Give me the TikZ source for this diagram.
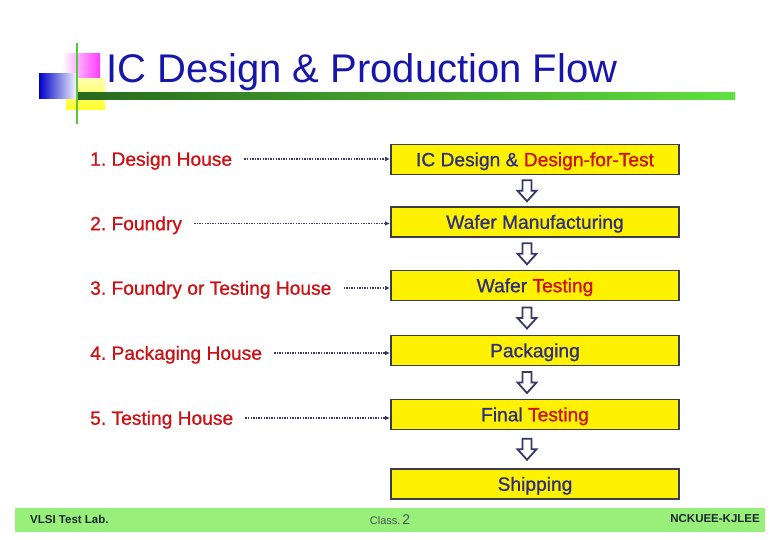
\documentclass[tikz,border=0pt]{standalone}
\usepackage{fontspec}
\setmainfont{Liberation Sans}
\newfontfamily\heavyface[FakeBold=0.9]{Liberation Sans}
\usetikzlibrary{calc,arrows.meta}
\definecolor{titleblue}{RGB}{22,22,170}
\definecolor{boxtext}{RGB}{45,45,130}
\definecolor{labred}{RGB}{204,16,20}
\definecolor{linkblue}{RGB}{55,55,105}
\definecolor{boxedge}{RGB}{60,60,80}
\definecolor{footgreen}{RGB}{152,240,122}
\definecolor{footink}{RGB}{30,40,50}
\definecolor{bardark}{RGB}{40,105,30}
\definecolor{barlight}{RGB}{95,225,60}
\definecolor{linegreen}{RGB}{90,200,60}
\definecolor{pinkish}{RGB}{255,60,255}
\definecolor{deepblue}{RGB}{0,0,200}
\frenchspacing

\begin{document}
\begin{tikzpicture}[>=Latex,x=1pt,y=-1pt,
  flowbox/.style={draw=boxedge,line width=1.8pt,fill=yellow,minimum width=288pt,minimum height=30pt,inner sep=0pt,text height=13.5pt,text depth=0pt,text=boxtext,font=\heavyface\fontsize{19.2}{21}\selectfont},
  houselab/.style={anchor=west,inner sep=0pt,text height=13.5pt,text depth=0pt,text=labred,font=\heavyface\fontsize{19.2}{21}\selectfont},
  link/.style={linkblue,line width=1.7pt,dash pattern=on 1.4pt off 1.2pt,shorten <=12pt,-{Latex[length=5pt,width=4.5pt]}},
  hollow/.style={draw=linkblue,line width=1.8pt,fill=white,line join=miter}]
  \useasboundingbox (0,0) rectangle (780,540);
  % Title ornament: faded squares, green rules
  \shade[top color=yellow!30,bottom color=yellow!85] (66,78) rectangle (105,110);
  \shade[left color=white,right color=pinkish] (62,54) rectangle (100,78);
  \shade[shading angle=120,left color=deepblue,right color=white] (39,74) rectangle (78,99);
  \shade[left color=bardark,right color=barlight] (77,93) rectangle (735,100);
  \draw[linegreen,line width=2.5pt] (77,43)--(77,124);
  \node[anchor=base west,inner sep=0pt,text=titleblue,font=\fontsize{40}{44}\selectfont] (title) at (106,83) {IC Design \& Production Flow};
  % Flow boxes on the right
  \foreach \i/\yy/\txt in {1/159.5/{IC Design \& \textcolor{labred}{Design-for-Test}},
                           2/222/{Wafer Manufacturing},
                           3/285.5/{Wafer \textcolor{labred}{Testing}},
                           4/350.5/{Packaging},
                           5/414.5/{Final \textcolor{labred}{Testing}},
                           6/484/{Shipping}}{
    \node[flowbox] (b\i) at (535,\yy) {\txt};
  }
  % Hollow arrows between the boxes
  \foreach \i/\j in {1/2,2/3,3/4,4/5,5/6}{
    \coordinate (m\i) at ($(b\i.south)!0.5!(b\j.north)+(-8,0)$);
    \draw[hollow] (m\i) ++(-4.5,-10.5) -- ++(9,0) -- ++(0,10.5) -- ++(5,0) -- ++(-9.5,10.5) -- ++(-9.5,-10.5) -- ++(5,0) -- cycle;
  }
  % Who does each step
  \foreach \i/\yy/\txt in {1/159/{1. Design House},2/223.5/{2. Foundry},3/288/{3. Foundry or Testing House},
                           4/353/{4. Packaging House},5/418/{5. Testing House}}{
    \node[houselab] (lab\i) at (90,\yy) {\txt};
    \draw[link] (lab\i.east) -- (lab\i.east -| b\i.west);
  }
  % Footer
  \fill[footgreen] (15,508) rectangle (765,532);
  \node[anchor=west,inner sep=0pt,text=footink,font=\bfseries\fontsize{11.5}{12}\selectfont] (lab) at (30,519) {VLSI Test Lab.};
  \node[inner sep=0pt,text=footink!80,font=\fontsize{11}{12}\selectfont] (cls) at (390,520) {Class.\,{\fontsize{14}{14}\selectfont 2}};
  \node[anchor=east,inner sep=0pt,text=footink,font=\bfseries\fontsize{11.5}{12}\selectfont] (dept) at (760,519) {NCKUEE-KJLEE};
\end{tikzpicture}
\end{document}
